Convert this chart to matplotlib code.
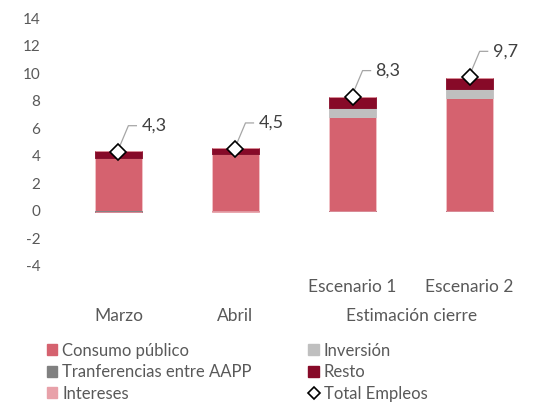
import matplotlib.pyplot as plt
import numpy as np
from matplotlib.patches import Patch
from matplotlib.lines import Line2D
from matplotlib.transforms import IdentityTransform

plt.rcParams['font.family'] = ['Lato', 'DejaVu Sans']

# Data
categories = ['Marzo', 'Abril', 'Escenario 1', 'Escenario 2']
consumo = [3.85, 4.1, 6.85, 8.2]
inversion = [0.0, 0.0, 0.6, 0.65]
transferencias = [-0.1, 0.0, 0.0, 0.0]
intereses = [0.0, -0.06, 0.0, 0.0]
resto = [0.5, 0.45, 0.8, 0.8]
total = [4.3, 4.5, 8.3, 9.7]
total_labels = ['4,3', '4,5', '8,3', '9,7']
yticks = [-4, -2, 0, 2, 4, 6, 8, 10, 12, 14]

c_consumo = '#D5626F'
c_inversion = '#BFBFBF'
c_transf = '#808080'
c_resto = '#870A28'
c_intereses = '#E8A1A9'
txt_col = '#595959'

fig = plt.figure(figsize=(5.39, 4.03), dpi=100)
ax = fig.add_axes([0.111, 0.34, 0.869, 0.615])

x = np.arange(len(categories))
w = 0.4
series = [(consumo, c_consumo), (inversion, c_inversion), (transferencias, c_transf),
          (resto, c_resto), (intereses, c_intereses)]
pos_base = np.zeros(len(x))
neg_base = np.zeros(len(x))
for vals, col in series:
    vals = np.array(vals)
    pos = np.where(vals > 0, vals, 0)
    neg = np.where(vals < 0, vals, 0)
    ec = '#F2C4C9' if col == c_consumo else col
    ax.bar(x, pos, w, bottom=pos_base, color=col, edgecolor=ec, linewidth=0.6, zorder=2)
    ax.bar(x, neg, w, bottom=neg_base, color=col, edgecolor=col, linewidth=0.6, zorder=2)
    pos_base += pos
    neg_base += neg

ax.set_xlim(-0.5, 3.5)
ax.set_ylim(-4, 14)

ax.plot(x, total, linestyle='none', marker='D', markersize=8.5, markerfacecolor='white',
        markeredgecolor='black', markeredgewidth=1.2, zorder=4)

# data labels with leader lines (pixel offsets from the marker)
for xi, t, lab in zip(x, total, total_labels):
    px, py = ax.transData.transform((xi, t))
    ax.add_line(Line2D([px + 2, px + 10, px + 18], [py + 7, py + 26, py + 26],
                       transform=IdentityTransform(), color='#A6A6A6', lw=0.9, zorder=3))
    ax.text(px + 23, py + 26, lab, transform=IdentityTransform(), ha='left', va='center',
            fontsize=13, color='#404040')

ax.set_yticks(yticks)
ax.set_yticklabels([str(v) for v in yticks])
ax.tick_params(axis='y', length=0, pad=14, labelsize=11, labelcolor=txt_col)
ax.set_xticks([])
for s in ax.spines.values():
    s.set_visible(False)

# two-level category labels
xt = ax.get_xaxis_transform()
ax.text(x[0], -0.2, categories[0], transform=xt, ha='center', va='center', fontsize=12.5, color=txt_col)
ax.text(x[1], -0.2, categories[1], transform=xt, ha='center', va='center', fontsize=12.5, color=txt_col)
ax.text(x[2], -0.083, categories[2], transform=xt, ha='center', va='center', fontsize=12.5, color=txt_col)
ax.text(x[3], -0.083, categories[3], transform=xt, ha='center', va='center', fontsize=12.5, color=txt_col)
ax.text((x[2] + x[3]) / 2, -0.2, 'Estimación cierre', transform=xt, ha='center', va='center',
        fontsize=12.5, color=txt_col)

handles = [Patch(color=c_consumo, label='Consumo público'),
           Patch(color=c_transf, label='Tranferencias entre AAPP'),
           Patch(color=c_intereses, label='Intereses'),
           Patch(color=c_inversion, label='Inversión'),
           Patch(color=c_resto, label='Resto'),
           Line2D([], [], linestyle='none', marker='D', markersize=6, markerfacecolor='white',
                  markeredgecolor='black', markeredgewidth=1.2, label='Total Empleos')]
leg = fig.legend(handles=handles, ncol=2, loc='upper left', bbox_to_anchor=(0.087, 0.15),
                 frameon=False, fontsize=12, handlelength=0.62, handleheight=0.62,
                 handletextpad=0.3, labelspacing=0.33, columnspacing=3.4, borderaxespad=0,
                 borderpad=0)
for t in leg.get_texts():
    t.set_color(txt_col)

fig.savefig('out.png', dpi=100)
